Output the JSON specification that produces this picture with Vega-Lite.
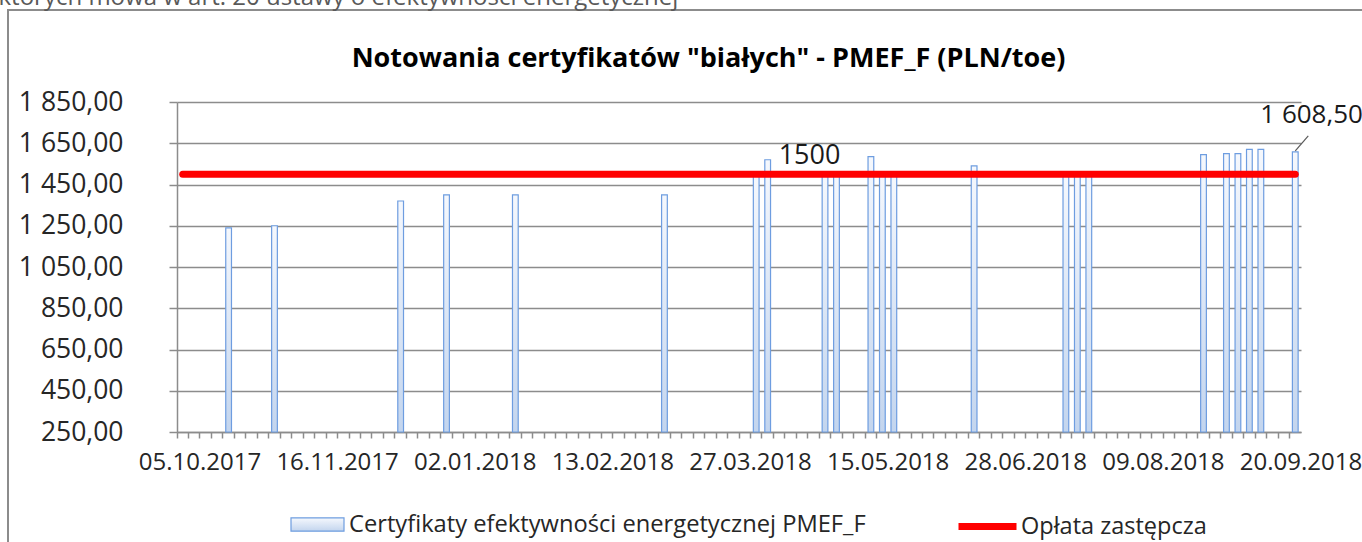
{
  "$schema": "https://vega.github.io/schema/vega-lite/v6.json",
  "width": 1400,
  "height": 560,
  "autosize": {"type": "none"},
  "padding": {"left": 8, "top": 10, "right": 0, "bottom": 0},
  "background": "white",
  "config": {
    "locale": {"number": {"decimal": ",", "thousands": " ", "grouping": [3], "currency": ["", " zł"]}},
    "view": {"stroke": "#8c8c8c", "strokeWidth": 2, "fill": "white"},
    "font": "Open Sans"
  },
  "datasets": {
    "pmef": [
      {"session": 4, "value": 1240},
      {"session": 8, "value": 1250},
      {"session": 19, "value": 1370},
      {"session": 23, "value": 1400},
      {"session": 29, "value": 1400},
      {"session": 42, "value": 1400},
      {"session": 50, "value": 1500},
      {"session": 51, "value": 1570},
      {"session": 56, "value": 1500},
      {"session": 57, "value": 1500},
      {"session": 60, "value": 1585},
      {"session": 61, "value": 1500},
      {"session": 62, "value": 1500},
      {"session": 69, "value": 1540},
      {"session": 77, "value": 1500},
      {"session": 78, "value": 1500},
      {"session": 79, "value": 1500},
      {"session": 89, "value": 1595},
      {"session": 91, "value": 1600},
      {"session": 92, "value": 1600},
      {"session": 93, "value": 1620},
      {"session": 94, "value": 1620},
      {"session": 97, "value": 1608.5}
    ],
    "oplata": [
      {"session": 0, "value": 1500},
      {"session": 55, "value": 1500},
      {"session": 97, "value": 1500}
    ]
  },
  "encoding": {
    "x": {
      "field": "session",
      "type": "ordinal",
      "scale": {
        "domain": [0,1,2,3,4,5,6,7,8,9,10,11,12,13,14,15,16,17,18,19,20,21,22,23,24,25,26,27,28,29,30,31,32,33,34,35,36,37,38,39,40,41,42,43,44,45,46,47,48,49,50,51,52,53,54,55,56,57,58,59,60,61,62,63,64,65,66,67,68,69,70,71,72,73,74,75,76,77,78,79,80,81,82,83,84,85,86,87,88,89,90,91,92,93,94,95,96,97],
        "range": [169, 1293],
        "paddingInner": 0,
        "paddingOuter": 0
      },
      "axis": {
        "orient": "bottom",
        "offset": -138,
        "bandPosition": 0,
        "labelOffset": 5.73,
        "labelExpr": "datum.value == 1 ? '05.10.2017' : datum.value == 13 ? '16.11.2017' : datum.value == 25 ? '02.01.2018' : datum.value == 37 ? '13.02.2018' : datum.value == 49 ? '27.03.2018' : datum.value == 61 ? '15.05.2018' : datum.value == 73 ? '28.06.2018' : datum.value == 85 ? '09.08.2018' : datum.value == 97 ? '20.09.2018' : ''",
        "labelOverlap": false,
        "labelFlush": false,
        "labelAngle": 0,
        "labelFontSize": 24,
        "labelColor": "#262626",
        "labelPadding": 12,
        "tickSize": 6,
        "tickColor": "#8c8c8c",
        "tickWidth": 1.5,
        "domainColor": "#8c8c8c",
        "domainWidth": 1.5,
        "grid": false,
        "title": "Notowania certyfikatów \"białych\" - PMEF_F (PLN/toe)",
        "titleX": 700,
        "titleY": -374,
        "titleAngle": 0,
        "titleAlign": "center",
        "titleBaseline": "middle",
        "titleFontSize": 27,
        "titleFontWeight": "bold",
        "titleColor": "#000000"
      }
    },
    "y": {
      "field": "value",
      "type": "quantitative",
      "scale": {"domain": [250, 1850], "range": [422, 92], "nice": false, "zero": false},
      "axis": {
        "orient": "left",
        "offset": -169,
        "values": [250, 450, 650, 850, 1050, 1250, 1450, 1650, 1850],
        "format": ",.2f",
        "labelFontSize": 26.5,
        "labelColor": "#262626",
        "labelPadding": 46,
        "tickSize": 8,
        "tickColor": "#8c8c8c",
        "tickWidth": 1.5,
        "domainColor": "#8c8c8c",
        "domainWidth": 1.5,
        "grid": true,
        "gridColor": "#8c8c8c",
        "gridWidth": 1.5,
        "title": "których mowa w art. 20 ustawy o efektywności energetycznej",
        "titleAngle": 0,
        "titleAlign": "left",
        "titleBaseline": "alphabetic",
        "titleX": -179,
        "titleY": -6,
        "titleFontSize": 24,
        "titleFontWeight": "normal",
        "titleColor": "#595959"
      }
    }
  },
  "layer": [
    {
      "data": {"name": "pmef"},
      "mark": {
        "type": "bar",
        "width": {"band": 0.5},
        "strokeWidth": 1.2,
        "fill": {
          "gradient": "linear", "x1": 0, "y1": 0, "x2": 0, "y2": 1,
          "stops": [{"offset": 0, "color": "#f5f8fd"}, {"offset": 1, "color": "#c3d5ee"}]
        }
      },
      "encoding": {
        "y2": {"datum": 250},
        "stroke": {
          "datum": "Certyfikaty efektywności energetycznej PMEF_F",
          "scale": {"range": ["#6e9de0"]},
          "legend": {
            "orient": "none", "legendX": 282, "legendY": 487, "title": null, "padding": 0,
            "symbolType": "M-1,-0.25H1V0.25H-1Z", "symbolSize": 2809, "symbolStrokeWidth": 1.2,
            "symbolFillColor": "#dce6f4", "labelFontSize": 23.7, "labelColor": "#262626",
            "labelOffset": 4, "labelLimit": 1000
          }
        }
      }
    },
    {
      "data": {"name": "oplata"},
      "mark": {"type": "line", "strokeWidth": 7, "strokeCap": "round"},
      "encoding": {
        "color": {
          "datum": "Opłata zastępcza",
          "scale": {"range": ["#ff0000"]},
          "legend": {
            "orient": "none", "legendX": 947, "legendY": 484, "title": null, "padding": 0,
            "symbolType": "stroke", "symbolSize": 3364, "symbolStrokeWidth": 7,
            "labelFontSize": 23.5, "labelColor": "#262626", "labelOffset": 1, "labelLimit": 1000
          }
        }
      }
    },
    {
      "data": {"name": "oplata"},
      "transform": [{"filter": "datum.session == 55"}],
      "mark": {"type": "text", "dx": -4, "dy": -18, "fontSize": 27, "color": "#1a1a1a"},
      "encoding": {"text": {"field": "value", "type": "quantitative", "format": "d"}}
    },
    {
      "data": {"name": "pmef"},
      "transform": [{"filter": "datum.session == 97"}],
      "mark": {"type": "text", "align": "left", "dx": -35, "dy": -37, "fontSize": 26, "color": "#1a1a1a"},
      "encoding": {"text": {"field": "value", "type": "quantitative", "format": ",.2f"}}
    },
    {
      "data": {"name": "pmef"},
      "transform": [{"filter": "datum.session == 97"}],
      "mark": {"type": "rule", "stroke": "#595959", "strokeWidth": 1.2, "yOffset": -1, "x2Offset": 13, "y2Offset": -16},
      "encoding": {"x2": {"field": "session"}, "y2": {"field": "value"}}
    }
  ]
}
